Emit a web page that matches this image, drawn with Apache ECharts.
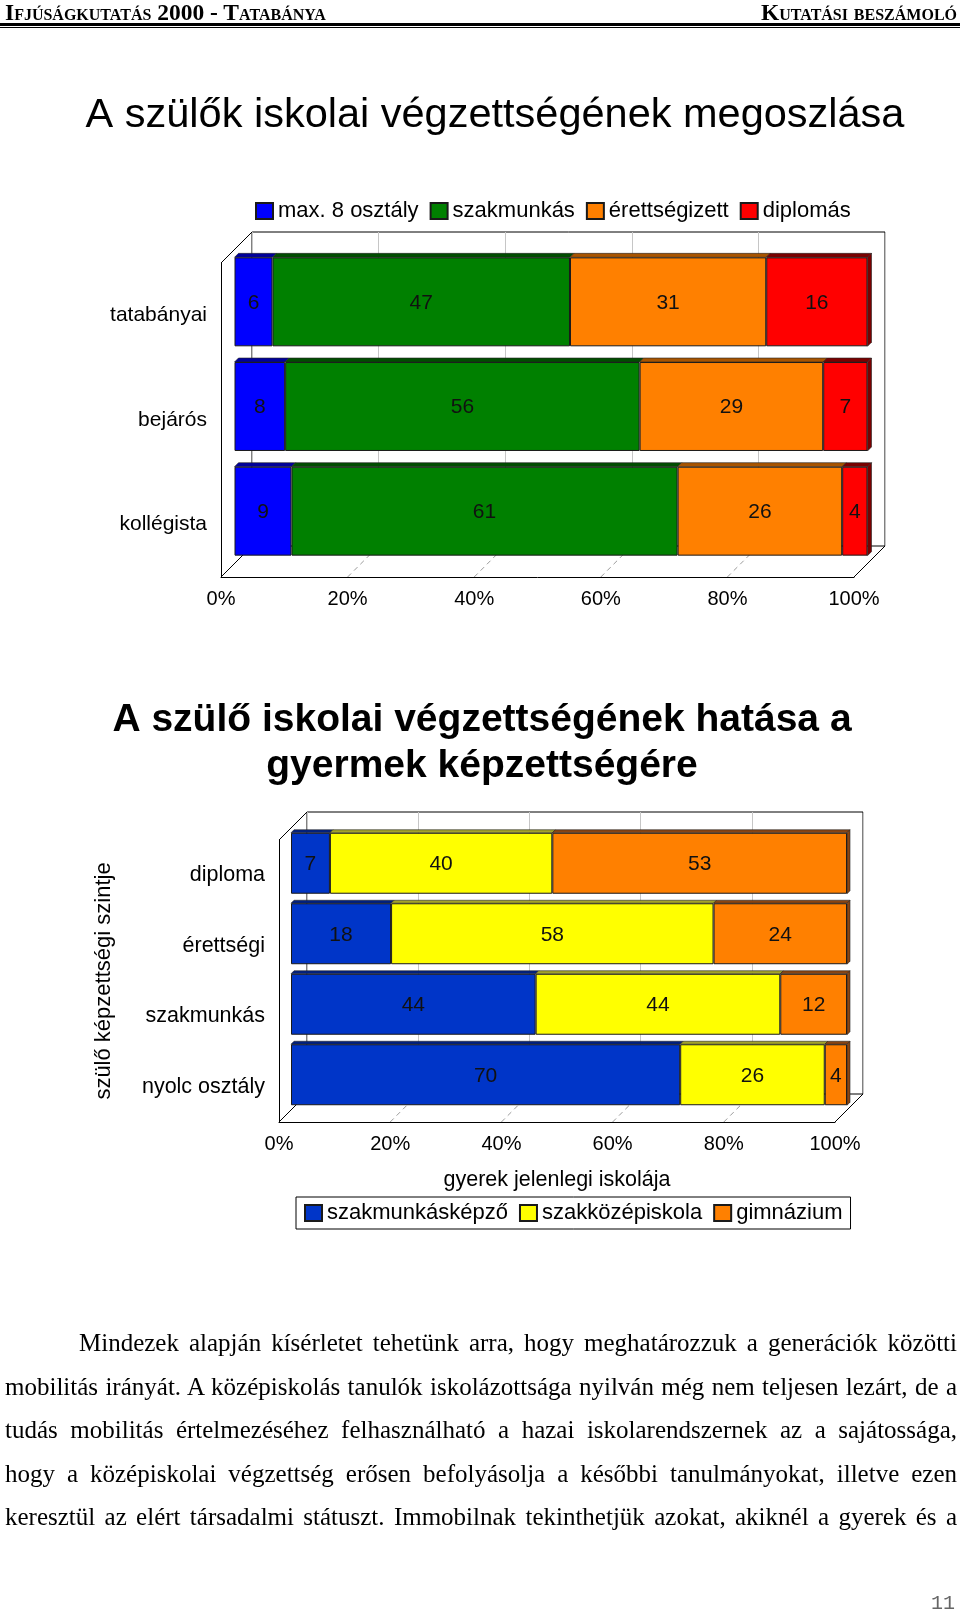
<!DOCTYPE html>
<html>
<head>
<meta charset="utf-8">
<title>A szülők iskolai végzettségének megoszlása</title>
<script src="https://cdn.jsdelivr.net/npm/echarts@6/dist/echarts.min.js"></script>
<style>
    html, body { margin: 0; padding: 0; background: #fff; }
    .page { position: relative; width: 960px; height: 1613px; overflow: hidden; background: #fff; }
    #chart { position: absolute; left: 0; top: 0; width: 960px; height: 1613px; }
    .head { position: absolute; top: -1px; font: bold 23.5px 'Liberation Serif'; font-variant: small-caps; color: #000; }
    .head.left { left: 5px; }
    .head.right { right: 3px; }
    .rule { position: absolute; left: 0; width: 960px; top: 23px; height: 3px; background: #000; }
    .rule.thin { top: 27px; height: 1px; }
    .para { position: absolute; left: 5px; top: 1321px; width: 952px; font: 25px/43.5px 'Liberation Serif'; color: #000; }
    .para div { text-align: justify; text-align-last: justify; }
    .para div.first { padding-left: 74px; }
    .pageno { position: absolute; right: 5px; top: 1592px; font: 20px 'Liberation Mono'; color: #666; }
</style>
</head>
<body>
<div class="page">
    <div id="chart"></div>
    <div class="head left">Ifjúságkutatás 2000 - Tatabánya</div>
    <div class="head right">Kutatási beszámoló</div>
    <div class="rule"></div>
    <div class="rule thin"></div>
    <div class="para">
        <div class="first">Mindezek alapján kísérletet tehetünk arra, hogy meghatározzuk a generációk közötti</div>
        <div>mobilitás irányát. A középiskolás tanulók iskolázottsága nyilván még nem teljesen lezárt, de a</div>
        <div>tudás mobilitás értelmezéséhez felhasználható a hazai iskolarendszernek az a sajátossága,</div>
        <div>hogy a középiskolai végzettség erősen befolyásolja a későbbi tanulmányokat, illetve ezen</div>
        <div>keresztül az elért társadalmi státuszt. Immobilnak tekinthetjük azokat, akiknél a gyerek és a</div>
    </div>
    <div class="pageno">11</div>
</div>
<script>
    // felső ábra: szülők végzettsége lakóhely szerint
    const chart1Categories = ['tatabányai', 'bejárós', 'kollégista']
    const chart1Names = ['max. 8 osztály', 'szakmunkás', 'érettségizett', 'diplomás']
    const chart1Max8 = [6, 8, 9]
    const chart1Szakmunkas = [47, 56, 61]
    const chart1Erettsegizett = [31, 29, 26]
    const chart1Diplomas = [16, 7, 4]

    // alsó ábra: gyerek iskolája a szülő végzettsége szerint
    const chart2Categories = ['diploma', 'érettségi', 'szakmunkás', 'nyolc osztály']
    const chart2Names = ['szakmunkásképző', 'szakközépiskola', 'gimnázium']
    const chart2Szakmunkaskepzo = [7, 18, 44, 70]
    const chart2Szakkozep = [40, 58, 44, 26]
    const chart2Gimnazium = [53, 24, 12, 4]

    const percentTicks = [0, 20, 40, 60, 80, 100]

    const font = 'Liberation Sans'
    const tickMin = percentTicks[0]
    const tickMax = percentTicks[percentTicks.length - 1]
    const tickStep = percentTicks[1] - percentTicks[0]

    // 3D doboz: elülső sík, mélység, oszlopsík eltolása
    const box1 = { left: 221, right: 854, top: 263, bottom: 577, depth: 31, barOffset: 13.5, gap: 0.15, face: 4, catFont: 21 }
    const box2 = { left: 279, right: 835, top: 840, bottom: 1122, depth: 28, barOffset: 12, gap: 0.135, face: 3, catFont: 21.5 }

    const colors1 = ['#0000ff', '#008000', '#ff8000', '#ff0000']
    const shades1 = ['#00009a', '#004d00', '#a85400', '#7a0000']
    const colors2 = ['#0035c8', '#ffff00', '#ff8000']
    const shades2 = ['#002080', '#a3a32a', '#8a4512']

    function facesRenderer(bx, shades, nSeries) {
        return function (params, api) {
            const p0 = api.coord([api.value(0), api.value(2)])
            const p1 = api.coord([api.value(1), api.value(2)])
            const band = api.size([0, 1])[1]
            const h = band * (1 - bx.gap)
            const top = p0[1] - h / 2
            const bottom = p0[1] + h / 2
            const s = api.value(3)
            const f = bx.face
            const children = [{
                type: 'polygon',
                shape: { points: [[p0[0], top], [p1[0], top], [p1[0] + f, top - f], [p0[0] + f, top - f]] },
                style: { fill: shades[s], stroke: '#222', lineWidth: 0.6 }
            }]
            if (s === nSeries - 1) {
                children.push({
                    type: 'polygon',
                    shape: { points: [[p1[0], top], [p1[0] + f, top - f], [p1[0] + f, bottom - f], [p1[0], bottom]] },
                    style: { fill: shades[s], stroke: '#222', lineWidth: 0.6 }
                })
            }
            return { type: 'group', children: children }
        }
    }

    function buildChart(bx, categories, names, values, colors, shades, gi, extra) {
        const d = bx.depth
        const b = bx.barOffset
        const W = bx.right - bx.left
        const H = bx.bottom - bx.top
        const grids = [
            { left: bx.left + d, top: bx.top - d, width: W, height: H, show: true, borderColor: '#000', borderWidth: 1, backgroundColor: 'transparent' },
            { left: bx.left + b, top: bx.top - b, width: W, height: H },
            { left: bx.left, top: bx.top, width: W, height: H }
        ]
        const xAxes = [
            {
                gridIndex: gi, type: 'value', min: tickMin, max: tickMax, interval: tickStep,
                axisLabel: { show: false }, axisLine: { show: false }, axisTick: { show: false },
                splitLine: { show: true, lineStyle: { color: '#c6c6c6', width: 1 } }
            },
            { gridIndex: gi + 1, type: 'value', min: tickMin, max: tickMax, show: false },
            Object.assign({
                gridIndex: gi + 2, type: 'value', min: tickMin, max: tickMax, interval: tickStep,
                axisLine: { show: true, lineStyle: { color: '#000', width: 1 } },
                axisTick: { show: false },
                splitLine: { show: false },
                axisLabel: { formatter: '{value}%', margin: 12, fontSize: 20, color: '#000', fontFamily: font }
            }, extra.x || {})
        ]
        const yAxes = [
            { gridIndex: gi, type: 'category', data: categories, show: false },
            { gridIndex: gi + 1, type: 'category', data: categories, inverse: true, show: false },
            Object.assign({
                gridIndex: gi + 2, type: 'category', data: categories, inverse: true,
                axisLine: { show: true, lineStyle: { color: '#000', width: 1 } },
                axisTick: { show: false },
                axisLabel: { margin: 14, fontSize: bx.catFont, color: '#000', fontFamily: font }
            }, extra.y || {})
        ]
        const series = []
        const faceData = []
        values.forEach((vals, s) => {
            series.push({
                type: 'bar',
                name: names[s],
                xAxisIndex: gi + 1,
                yAxisIndex: gi + 1,
                stack: 'st' + gi,
                barCategoryGap: (bx.gap * 100) + '%',
                data: vals,
                itemStyle: { color: colors[s], borderColor: '#1a1a1a', borderWidth: 1 },
                label: { show: true, position: 'inside', offset: [0, 1], color: '#111', fontSize: 21, fontFamily: font },
                emphasis: { disabled: true },
                z: 3
            })
        })
        categories.forEach((c, i) => {
            let acc = 0
            values.forEach((vals, s) => {
                faceData.push([acc, acc + vals[i], i, s])
                acc += vals[i]
            })
        })
        series.push({
            type: 'custom',
            xAxisIndex: gi + 1,
            yAxisIndex: gi + 1,
            renderItem: facesRenderer(bx, shades, values.length),
            data: faceData,
            encode: { x: [0, 1], y: 2 },
            silent: true,
            z: 4
        })
        // doboz élei és a padló szaggatott vonalai
        const L = bx.left, R = bx.right, T = bx.top, B = bx.bottom
        const graphics = []
        const edge = (x1, y1, x2, y2, dashed) => graphics.push({
            type: 'line', z: 1, silent: true,
            shape: { x1: x1, y1: y1, x2: x2, y2: y2 },
            style: dashed ? { stroke: '#9a9a9a', lineWidth: 1, lineDash: [5, 4] } : { stroke: '#000', lineWidth: 1 }
        })
        edge(L, T, L + d, T - d)
        edge(L, B, L + d, B - d)
        edge(R, B, R + d, B - d)
        percentTicks.slice(1, -1).forEach(t => {
            const x = L + W * (t - tickMin) / (tickMax - tickMin)
            edge(x, B, x + d, B - d, true)
        })
        return { grids, xAxes, yAxes, series, graphics }
    }

    const c1 = buildChart(box1, chart1Categories, chart1Names,
        [chart1Max8, chart1Szakmunkas, chart1Erettsegizett, chart1Diplomas], colors1, shades1, 0, {})
    const c2 = buildChart(box2, chart2Categories, chart2Names,
        [chart2Szakmunkaskepzo, chart2Szakkozep, chart2Gimnazium], colors2, shades2, 3, {
            x: { name: 'gyerek jelenlegi iskolája', nameLocation: 'middle', nameGap: 47, nameTextStyle: { fontSize: 21.5, color: '#000', fontFamily: font } },
            y: { name: 'szülő képzettségi szintje', nameLocation: 'middle', nameGap: 164, nameRotate: 90, nameTextStyle: { fontSize: 22, color: '#000', fontFamily: font } }
        })

    const chart = echarts.init(document.getElementById('chart'), null, { renderer: 'canvas' })
    const options = {
        animation: false,
        backgroundColor: 'transparent',
        textStyle: { fontFamily: font },
        grid: c1.grids.concat(c2.grids),
        xAxis: c1.xAxes.concat(c2.xAxes),
        yAxis: c1.yAxes.concat(c2.yAxes),
        series: c1.series.concat(c2.series),
        legend: [
            {
                data: chart1Names, left: 255, top: 200, padding: 0, itemGap: 11,
                itemWidth: 17, itemHeight: 16, icon: 'rect',
                textStyle: { fontSize: 22, color: '#000', fontFamily: font }
            },
            {
                data: chart2Names, left: 296, top: 1197, padding: [5, 8, 5, 8], itemGap: 11,
                itemWidth: 17, itemHeight: 16, icon: 'rect',
                borderColor: '#000', borderWidth: 1,
                textStyle: { fontSize: 22, color: '#000', fontFamily: font }
            }
        ],
        graphic: c1.graphics.concat(c2.graphics).concat([
            {
                type: 'text', x: 495, y: 116, silent: true,
                style: { text: 'A szülők iskolai végzettségének megoszlása', align: 'center', verticalAlign: 'middle', font: '41.5px "Liberation Sans"', fill: '#000' }
            },
            {
                type: 'text', x: 482, y: 743, silent: true,
                style: { text: 'A szülő iskolai végzettségének hatása a\ngyermek képzettségére', align: 'center', verticalAlign: 'middle', lineHeight: 46.5, font: 'bold 39px "Liberation Sans"', fill: '#000' }
            }
        ])
    }
    chart.setOption(options)
</script>
</body>
</html>
